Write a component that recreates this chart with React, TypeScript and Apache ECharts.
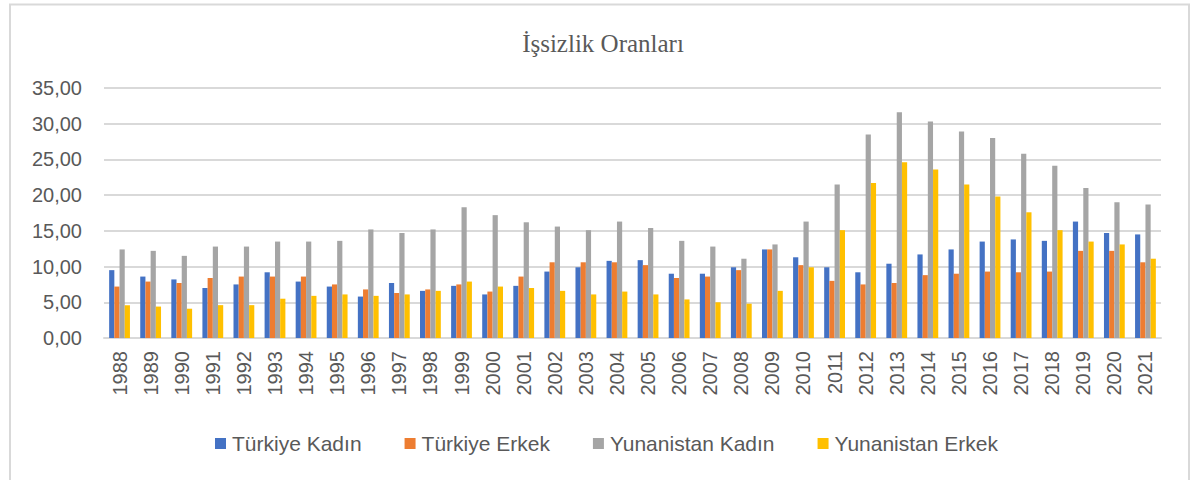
import React, { useEffect, useRef } from "react";
import * as echarts from "echarts";

const years = ["1988","1989","1990","1991","1992","1993","1994","1995","1996","1997","1998","1999","2000","2001","2002","2003","2004","2005","2006","2007","2008","2009","2010","2011","2012","2013","2014","2015","2016","2017","2018","2019","2020","2021"];

const turkiyeKadin = [9.5,8.6,8.2,7.0,7.5,9.2,7.9,7.2,5.8,7.7,6.6,7.3,6.1,7.3,9.3,9.9,10.8,10.9,9.0,9.0,9.9,12.4,11.3,9.9,9.2,10.4,11.7,12.4,13.5,13.8,13.6,16.3,14.7,14.5];
const turkiyeErkek = [7.2,7.9,7.7,8.4,8.6,8.6,8.6,7.5,6.8,6.3,6.8,7.5,6.5,8.6,10.6,10.6,10.6,10.2,8.4,8.6,9.5,12.4,10.2,8.0,7.5,7.7,8.8,9.0,9.3,9.2,9.3,12.2,12.2,10.6];
const yunanistanKadin = [12.4,12.2,11.5,12.8,12.8,13.5,13.5,13.6,15.2,14.7,15.2,18.3,17.2,16.2,15.6,15.1,16.3,15.4,13.6,12.8,11.1,13.1,16.3,21.5,28.5,31.6,30.3,28.9,28.0,25.8,24.1,21.0,19.0,18.7];
const yunanistanErkek = [4.6,4.4,4.1,4.6,4.6,5.5,5.9,6.1,5.9,6.1,6.6,7.9,7.2,7.0,6.6,6.1,6.5,6.1,5.4,5.0,4.8,6.6,9.9,15.1,21.7,24.6,23.6,21.5,19.8,17.6,15.1,13.5,13.1,11.1];

const seriesNames = ["Türkiye Kadın", "Türkiye Erkek", "Yunanistan Kadın", "Yunanistan Erkek"];
const seriesColors = ["#4472C4", "#ED7D31", "#A5A5A5", "#FFC000"];
const yTicks = [0, 5, 10, 15, 20, 25, 30, 35];

export default function App() {
  const ref = useRef<HTMLDivElement>(null);
  useEffect(() => {
    document.body.style.margin = "0";
    const chart = echarts.init(ref.current!, null, { renderer: "svg" });
    const data = [turkiyeKadin, turkiyeErkek, yunanistanKadin, yunanistanErkek];
    chart.setOption({
      animation: false,
      backgroundColor: "#ffffff",
      title: {
        text: "İşsizlik Oranları",
        left: 598,
        top: 26,
        textAlign: "center",
        textStyle: { fontFamily: "Liberation Serif", fontSize: 25, fontWeight: "normal", color: "#595959" },
      },
      graphic: [
        {
          type: "rect",
          shape: { x: 10, y: 4.5, width: 1179, height: 500 },
          style: { fill: "none", stroke: "#d9d9d9", lineWidth: 2 },
          silent: true,
        },
      ],
      legend: {
        left: 215,
        top: 433,
        padding: 0,
        itemWidth: 11,
        itemHeight: 11,
        itemGap: 43,
        icon: "rect",
        textStyle: { fontFamily: "Liberation Sans", fontSize: 21, color: "#595959", padding: [0, 0, 0, 1] },
        data: seriesNames,
      },
      grid: { left: 104, right: 29, top: 88, bottom: 142, containLabel: false },
      xAxis: {
        type: "category",
        data: years,
        axisLine: { lineStyle: { color: "#d9d9d9", width: 2 } },
        axisTick: { show: false },
        axisLabel: {
          rotate: 90,
          margin: 13,
          interval: 0,
          fontFamily: "Liberation Sans",
          fontSize: 20,
          color: "#595959",
        },
      },
      yAxis: {
        type: "value",
        min: yTicks[0],
        max: yTicks[yTicks.length - 1],
        interval: 5,
        axisLine: { show: false },
        axisTick: { show: false },
        splitLine: { lineStyle: { color: "#d9d9d9", width: 2 } },
        axisLabel: {
          margin: 22,
          fontFamily: "Liberation Sans",
          fontSize: 20,
          color: "#595959",
          formatter: (v: number) => v.toFixed(2).replace(".", ","),
        },
      },
      series: data.map((d, i) => ({
        name: seriesNames[i],
        type: "bar",
        data: d,
        barWidth: 5.2,
        barGap: "0%",
        itemStyle: { color: seriesColors[i] },
      })),
    });
    return () => chart.dispose();
  }, []);
  return <div ref={ref} style={{ width: 1190, height: 480 }} />;
}
